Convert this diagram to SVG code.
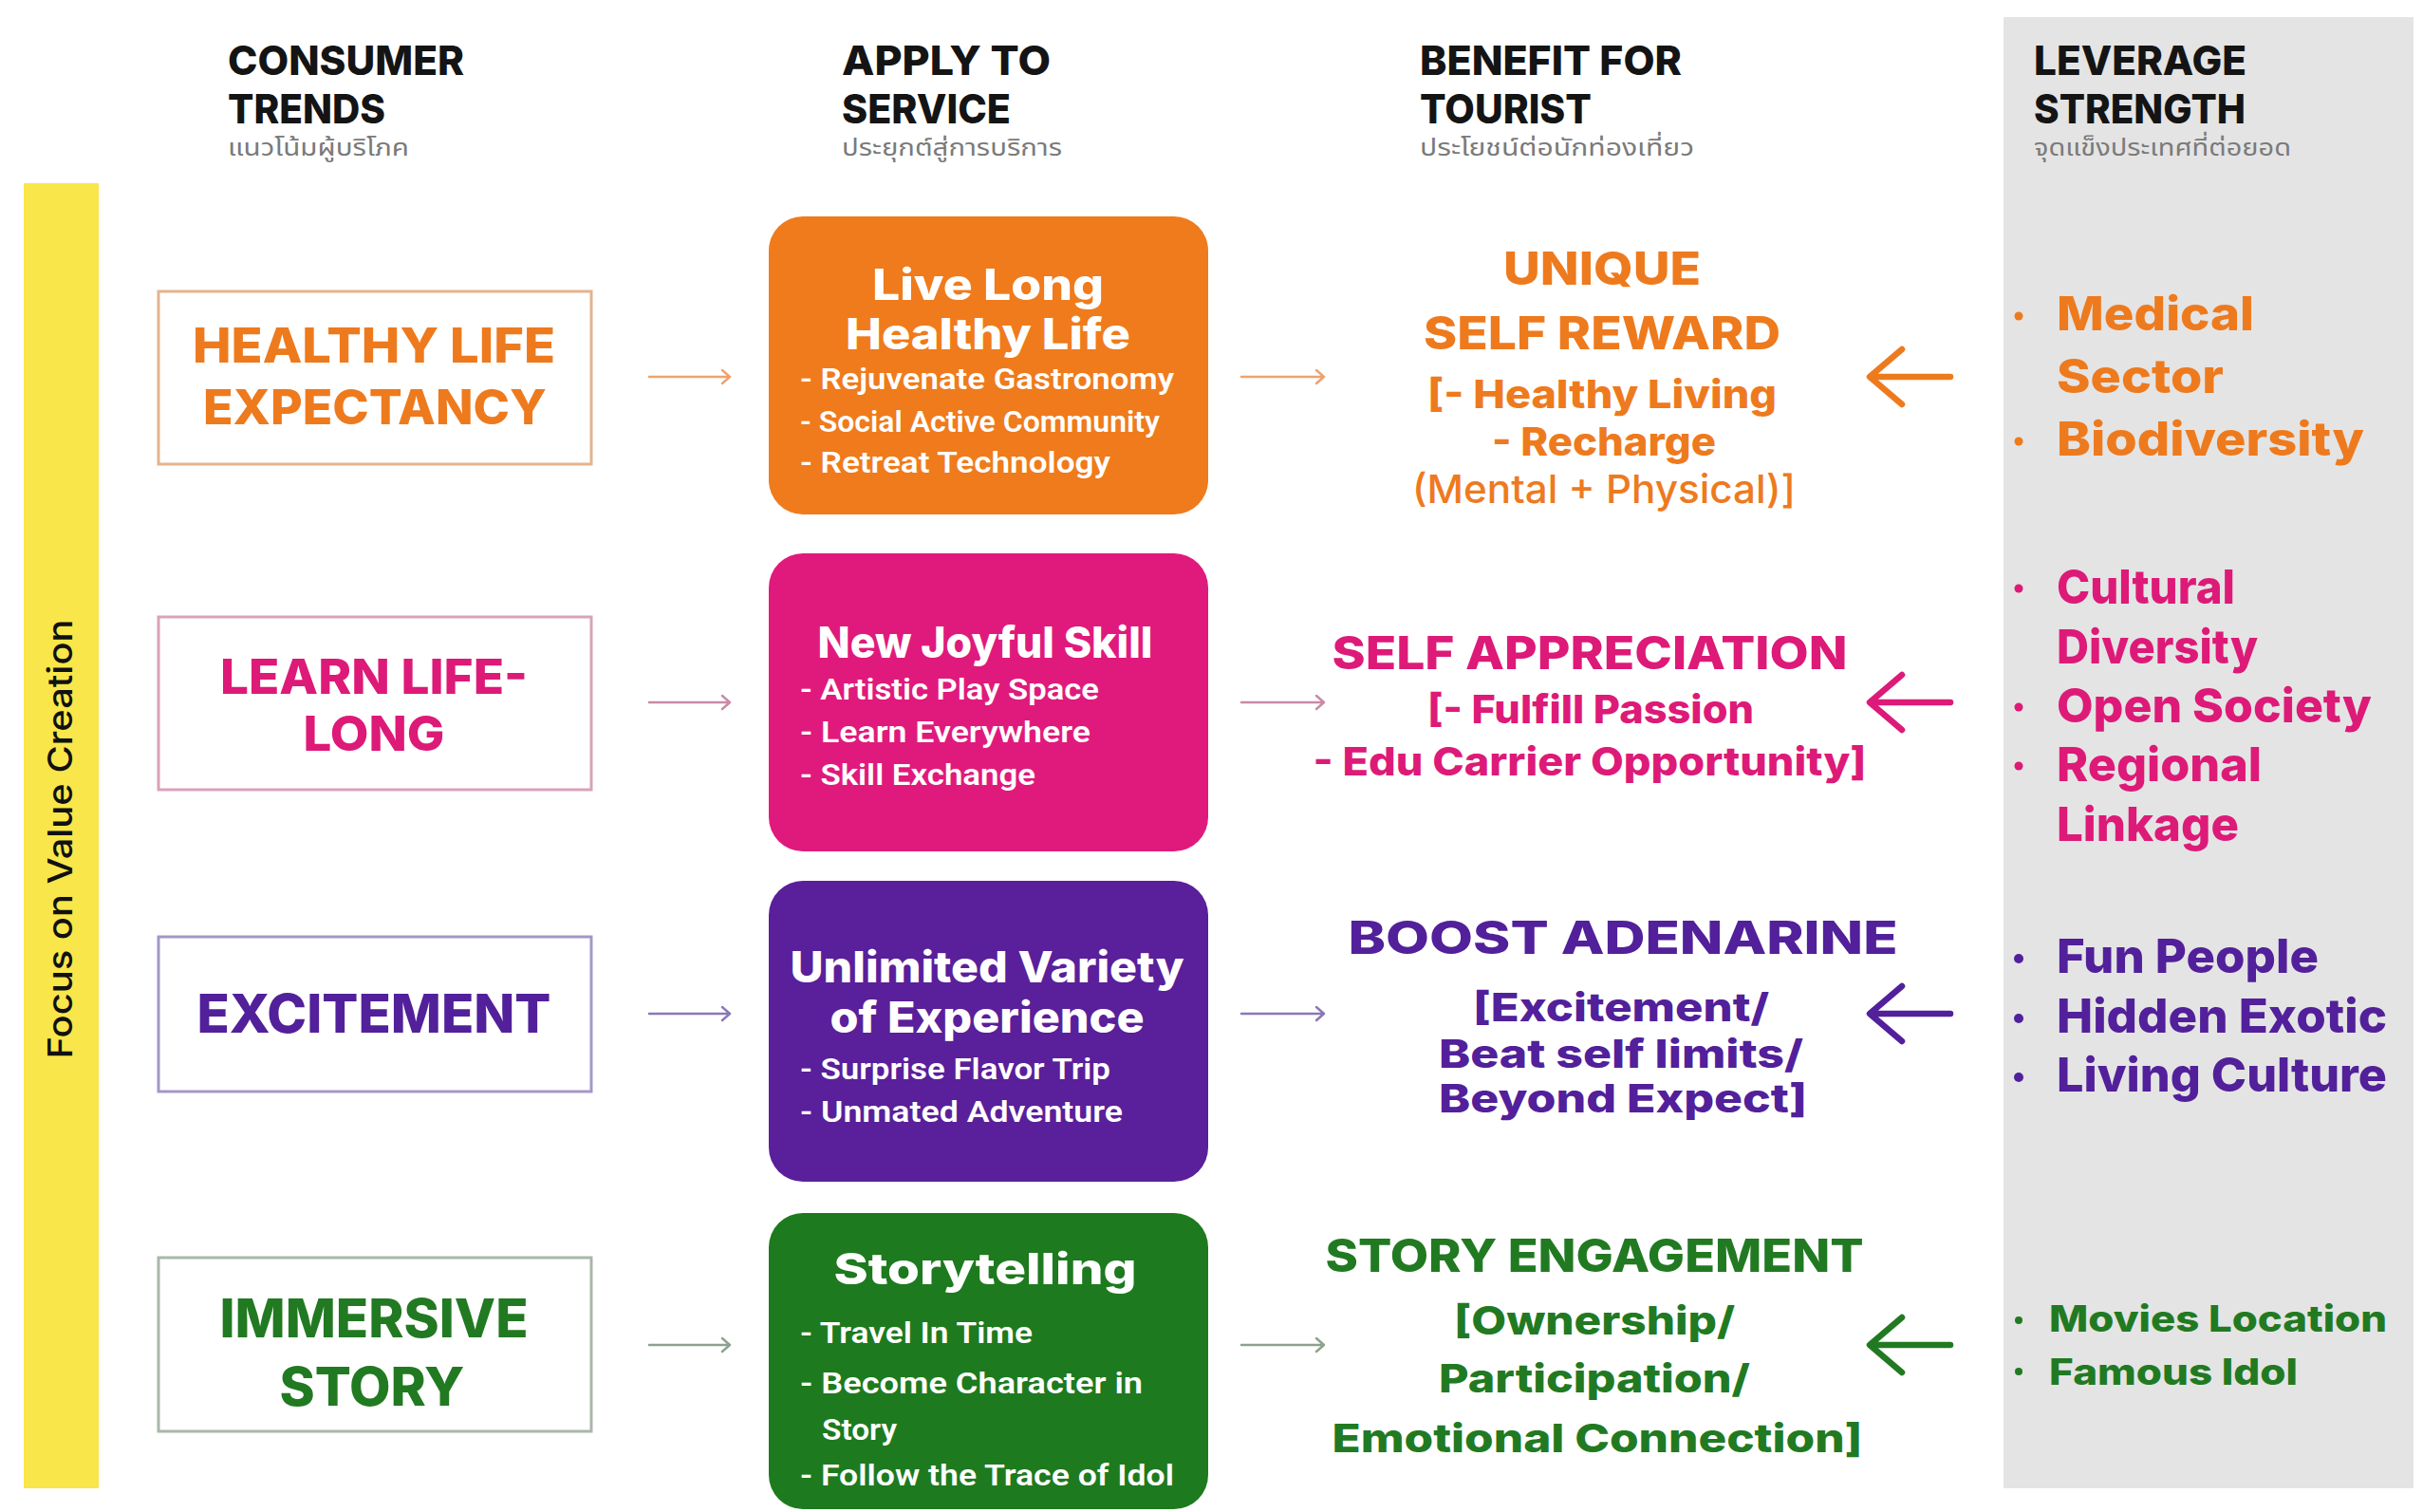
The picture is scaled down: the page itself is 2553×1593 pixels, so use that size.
<svg xmlns="http://www.w3.org/2000/svg" width="2553" height="1593" viewBox="0 0 2553 1593">
  <style>
    .hd { font-family: Inter, "Liberation Sans", sans-serif; font-weight: 800; font-size: 43px; fill: #141414; }
    .th { font-family: "Noto Sans Thai", "Noto Sans", "DejaVu Sans", sans-serif; font-weight: 400; font-size: 25px; fill: #7a7a7a; }
    .big { font-family: Inter, "Liberation Sans", sans-serif; font-weight: 800; font-size: 56px; }
    .two { font-size: 51px; }
    .ttl { font-family: Inter, "Liberation Sans", sans-serif; font-weight: 800; font-size: 45px; fill: #ffffff; }
    .itm { font-family: "Liberation Sans Narrow", Roboto, "Liberation Sans", sans-serif; font-weight: 600; font-size: 31px; fill: #ffffff; }
    .ben { font-family: Inter, "Liberation Sans", sans-serif; font-weight: 800; font-size: 48px; }
    .sub { font-family: Inter, "Liberation Sans", sans-serif; font-weight: 800; font-size: 41px; }
    .reg { font-family: Inter, "Liberation Sans", sans-serif; font-weight: 500; font-size: 41px; }
    .lev { font-family: Inter, "Liberation Sans", sans-serif; font-weight: 800; font-size: 50px; }
    .small { font-size: 38px; }
    .side { font-family: Inter, "Liberation Sans", sans-serif; font-weight: 500; font-size: 36px; fill: #111111; }
    .trend { fill: #ffffff; stroke-width: 3; }
    .thin { fill: none; stroke-width: 2.5; stroke-linecap: round; stroke-linejoin: round; }
    .thick { fill: none; stroke-width: 6.5; stroke-linecap: round; stroke-linejoin: round; }
    .or { fill: #ee7a1e; } .pk { fill: #dd1a78; } .pu { fill: #52209a; } .gr { fill: #217a21; }
  </style>

  <rect width="2553" height="1593" fill="#ffffff"/>

  <!-- side band and strength column -->
  <g id="value-band">
    <rect x="25" y="193" width="79" height="1375" fill="#f9e64a"/>
    <text class="side" transform="translate(76,884) rotate(-90)" text-anchor="middle" textLength="463" lengthAdjust="spacingAndGlyphs">Focus on Value Creation</text>
  </g>
  <rect id="strength-column" x="2111" y="18" width="432" height="1550" fill="#e4e4e4"/>

  <!-- column headers -->
  <g id="header-trends">
    <text class="hd" x="240" y="79" textLength="249" lengthAdjust="spacingAndGlyphs">CONSUMER</text>
    <text class="hd" x="240" y="130" textLength="166" lengthAdjust="spacingAndGlyphs">TRENDS</text>
    <text class="th" x="240" y="164" textLength="191" lengthAdjust="spacingAndGlyphs">แนวโน้มผู้บริโภค</text>
  </g>
  <g id="header-service">
    <text class="hd" x="887" y="79" textLength="220" lengthAdjust="spacingAndGlyphs">APPLY TO</text>
    <text class="hd" x="887" y="130" textLength="178" lengthAdjust="spacingAndGlyphs">SERVICE</text>
    <text class="th" x="887" y="164" textLength="232" lengthAdjust="spacingAndGlyphs">ประยุกต์สู่การบริการ</text>
  </g>
  <g id="header-benefit">
    <text class="hd" x="1496" y="79" textLength="276" lengthAdjust="spacingAndGlyphs">BENEFIT FOR</text>
    <text class="hd" x="1496" y="130" textLength="181" lengthAdjust="spacingAndGlyphs">TOURIST</text>
    <text class="th" x="1496" y="164" textLength="289" lengthAdjust="spacingAndGlyphs">ประโยชน์ต่อนักท่องเที่ยว</text>
  </g>
  <g id="header-strength">
    <text class="hd" x="2143" y="79" textLength="224" lengthAdjust="spacingAndGlyphs">LEVERAGE</text>
    <text class="hd" x="2143" y="130" textLength="223" lengthAdjust="spacingAndGlyphs">STRENGTH</text>
    <text class="th" x="2143" y="164" textLength="271" lengthAdjust="spacingAndGlyphs">จุดแข็งประเทศที่ต่อยอด</text>
  </g>

  <!-- row 1: healthy life -->
  <g id="trend-healthy">
    <rect class="trend" x="167" y="307" width="456" height="182" stroke="#e3b48e"/>
    <text class="big two or" x="394" y="382" text-anchor="middle" textLength="382" lengthAdjust="spacingAndGlyphs">HEALTHY LIFE</text>
    <text class="big two or" x="395" y="447" text-anchor="middle" textLength="362" lengthAdjust="spacingAndGlyphs">EXPECTANCY</text>
  </g>
  <g id="service-live-long">
    <rect x="810" y="228" width="463" height="314" rx="36" fill="#ef7b1c"/>
    <text class="ttl" x="1041" y="316" text-anchor="middle" textLength="244" lengthAdjust="spacingAndGlyphs">Live Long</text>
    <text class="ttl" x="1041" y="368" text-anchor="middle" textLength="300" lengthAdjust="spacingAndGlyphs">Healthy Life</text>
    <text class="itm" x="843" y="410" textLength="394" lengthAdjust="spacingAndGlyphs">- Rejuvenate Gastronomy</text>
    <text class="itm" x="843" y="455" textLength="379" lengthAdjust="spacingAndGlyphs">- Social Active Community</text>
    <text class="itm" x="843" y="498" textLength="327" lengthAdjust="spacingAndGlyphs">- Retreat Technology</text>
  </g>
  <g id="benefit-self-reward">
    <text class="ben or" x="1688" y="300" text-anchor="middle" textLength="208" lengthAdjust="spacingAndGlyphs">UNIQUE</text>
    <text class="ben or" x="1688" y="368" text-anchor="middle" textLength="376" lengthAdjust="spacingAndGlyphs">SELF REWARD</text>
    <text class="sub or" x="1688" y="430" text-anchor="middle" textLength="368" lengthAdjust="spacingAndGlyphs">[- Healthy Living</text>
    <text class="sub or" x="1690" y="480" text-anchor="middle" textLength="236" lengthAdjust="spacingAndGlyphs">- Recharge</text>
    <text class="reg or" x="1690" y="530" text-anchor="middle" textLength="404" lengthAdjust="spacingAndGlyphs">(Mental + Physical)]</text>
  </g>
  <g id="strength-medical">
    <circle cx="2127" cy="333" r="4.5" fill="#ee7a1e"/>
    <circle cx="2127" cy="465" r="4.5" fill="#ee7a1e"/>
    <text class="lev or" x="2167" y="348" textLength="208" lengthAdjust="spacingAndGlyphs">Medical</text>
    <text class="lev or" x="2167" y="414" textLength="176" lengthAdjust="spacingAndGlyphs">Sector</text>
    <text class="lev or" x="2167" y="480" textLength="324" lengthAdjust="spacingAndGlyphs">Biodiversity</text>
  </g>

  <!-- row 2: learn life-long -->
  <g id="trend-learn">
    <rect class="trend" x="167" y="650" width="456" height="182" stroke="#d9a2bb"/>
    <text class="big two pk" x="394" y="731" text-anchor="middle" textLength="324" lengthAdjust="spacingAndGlyphs">LEARN LIFE-</text>
    <text class="big two pk" x="394" y="791" text-anchor="middle" textLength="149" lengthAdjust="spacingAndGlyphs">LONG</text>
  </g>
  <g id="service-joyful-skill">
    <rect x="810" y="583" width="463" height="314" rx="36" fill="#e01a7c"/>
    <text class="ttl" x="1038" y="693" text-anchor="middle" textLength="353" lengthAdjust="spacingAndGlyphs">New Joyful Skill</text>
    <text class="itm" x="843" y="737" textLength="315" lengthAdjust="spacingAndGlyphs">- Artistic Play Space</text>
    <text class="itm" x="843" y="782" textLength="306" lengthAdjust="spacingAndGlyphs">- Learn Everywhere</text>
    <text class="itm" x="843" y="827" textLength="248" lengthAdjust="spacingAndGlyphs">- Skill Exchange</text>
  </g>
  <g id="benefit-self-appreciation">
    <text class="ben pk" x="1675" y="705" text-anchor="middle" textLength="543" lengthAdjust="spacingAndGlyphs">SELF APPRECIATION</text>
    <text class="sub pk" x="1676" y="762" text-anchor="middle" textLength="344" lengthAdjust="spacingAndGlyphs">[- Fulfill Passion</text>
    <text class="sub pk" x="1675" y="817" text-anchor="middle" textLength="583" lengthAdjust="spacingAndGlyphs">- Edu Carrier Opportunity]</text>
  </g>
  <g id="strength-cultural">
    <circle cx="2127" cy="620" r="4.5" fill="#dd1a78"/>
    <circle cx="2127" cy="745" r="4.5" fill="#dd1a78"/>
    <circle cx="2127" cy="807" r="4.5" fill="#dd1a78"/>
    <text class="lev pk" x="2167" y="636" textLength="188" lengthAdjust="spacingAndGlyphs">Cultural</text>
    <text class="lev pk" x="2167" y="699" textLength="212" lengthAdjust="spacingAndGlyphs">Diversity</text>
    <text class="lev pk" x="2167" y="761" textLength="332" lengthAdjust="spacingAndGlyphs">Open Society</text>
    <text class="lev pk" x="2167" y="823" textLength="216" lengthAdjust="spacingAndGlyphs">Regional</text>
    <text class="lev pk" x="2167" y="886" textLength="192" lengthAdjust="spacingAndGlyphs">Linkage</text>
  </g>

  <!-- row 3: excitement -->
  <g id="trend-excitement">
    <rect class="trend" x="167" y="987" width="456" height="163" stroke="#a497c6"/>
    <text class="big pu" x="394" y="1088" text-anchor="middle" textLength="373" lengthAdjust="spacingAndGlyphs">EXCITEMENT</text>
  </g>
  <g id="service-variety">
    <rect x="810" y="928" width="463" height="317" rx="36" fill="#5a1f9a"/>
    <text class="ttl" x="1040" y="1035" text-anchor="middle" textLength="415" lengthAdjust="spacingAndGlyphs">Unlimited Variety</text>
    <text class="ttl" x="1040" y="1088" text-anchor="middle" textLength="331" lengthAdjust="spacingAndGlyphs">of Experience</text>
    <text class="itm" x="843" y="1137" textLength="327" lengthAdjust="spacingAndGlyphs">- Surprise Flavor Trip</text>
    <text class="itm" x="843" y="1182" textLength="340" lengthAdjust="spacingAndGlyphs">- Unmated Adventure</text>
  </g>
  <g id="benefit-boost">
    <text class="ben pu" x="1710" y="1005" text-anchor="middle" textLength="579" lengthAdjust="spacingAndGlyphs">BOOST ADENARINE</text>
    <text class="sub pu" x="1708" y="1076" text-anchor="middle" textLength="312" lengthAdjust="spacingAndGlyphs">[Excitement/</text>
    <text class="sub pu" x="1708" y="1125" text-anchor="middle" textLength="384" lengthAdjust="spacingAndGlyphs">Beat self limits/</text>
    <text class="sub pu" x="1710" y="1172" text-anchor="middle" textLength="388" lengthAdjust="spacingAndGlyphs">Beyond Expect]</text>
  </g>
  <g id="strength-fun-people">
    <circle cx="2127" cy="1010" r="5" fill="#52209a"/>
    <circle cx="2127" cy="1073" r="5" fill="#52209a"/>
    <circle cx="2127" cy="1135" r="5" fill="#52209a"/>
    <text class="lev pu" x="2167" y="1025" textLength="276" lengthAdjust="spacingAndGlyphs">Fun People</text>
    <text class="lev pu" x="2167" y="1088" textLength="348" lengthAdjust="spacingAndGlyphs">Hidden Exotic</text>
    <text class="lev pu" x="2167" y="1150" textLength="348" lengthAdjust="spacingAndGlyphs">Living Culture</text>
  </g>

  <!-- row 4: immersive story -->
  <g id="trend-immersive">
    <rect class="trend" x="167" y="1325" width="456" height="183" stroke="#a9b7a9"/>
    <text class="big gr" x="394" y="1409" text-anchor="middle" textLength="325" lengthAdjust="spacingAndGlyphs">IMMERSIVE</text>
    <text class="big gr" x="392" y="1481" text-anchor="middle" textLength="195" lengthAdjust="spacingAndGlyphs">STORY</text>
  </g>
  <g id="service-storytelling">
    <rect x="810" y="1278" width="463" height="312" rx="36" fill="#1e7a1e"/>
    <text class="ttl" x="1038" y="1353" text-anchor="middle" textLength="319" lengthAdjust="spacingAndGlyphs">Storytelling</text>
    <text class="itm" x="843" y="1415" textLength="245" lengthAdjust="spacingAndGlyphs">- Travel In Time</text>
    <text class="itm" x="843" y="1468" textLength="361" lengthAdjust="spacingAndGlyphs">- Become Character in</text>
    <text class="itm" x="866" y="1517" textLength="79" lengthAdjust="spacingAndGlyphs">Story</text>
    <text class="itm" x="843" y="1565" textLength="394" lengthAdjust="spacingAndGlyphs">- Follow the Trace of Idol</text>
  </g>
  <g id="benefit-story-engagement">
    <text class="ben gr" x="1680" y="1340" text-anchor="middle" textLength="567" lengthAdjust="spacingAndGlyphs">STORY ENGAGEMENT</text>
    <text class="sub gr" x="1680" y="1406" text-anchor="middle" textLength="296" lengthAdjust="spacingAndGlyphs">[Ownership/</text>
    <text class="sub gr" x="1680" y="1467" text-anchor="middle" textLength="328" lengthAdjust="spacingAndGlyphs">Participation/</text>
    <text class="sub gr" x="1683" y="1530" text-anchor="middle" textLength="559" lengthAdjust="spacingAndGlyphs">Emotional Connection]</text>
  </g>
  <g id="strength-movies">
    <circle cx="2127" cy="1391" r="4" fill="#217a21"/>
    <circle cx="2127" cy="1445" r="4" fill="#217a21"/>
    <text class="lev small gr" x="2159" y="1403" textLength="356" lengthAdjust="spacingAndGlyphs">Movies Location</text>
    <text class="lev small gr" x="2159" y="1459" textLength="262" lengthAdjust="spacingAndGlyphs">Famous Idol</text>
  </g>

  <!-- connectors: trend -> service -> benefit, and strength -> benefit -->
  <g id="connectors">
    <path class="thin" stroke="#efa26e" d="M684,397 H769 M761,390 L769,397 L761,404"/>
    <path class="thin" stroke="#efa26e" d="M1308,397 H1395 M1387,390 L1395,397 L1387,404"/>
    <path class="thick" stroke="#ee7a1e" d="M2055,397 H1971 M2004,368 L1970,397 L2004,426"/>

    <path class="thin" stroke="#c98aa6" d="M684,740 H769 M761,733 L769,740 L761,747"/>
    <path class="thin" stroke="#c98aa6" d="M1308,740 H1395 M1387,733 L1395,740 L1387,747"/>
    <path class="thick" stroke="#dd1a78" d="M2055,740 H1971 M2004,711 L1970,740 L2004,769"/>

    <path class="thin" stroke="#8a78b6" d="M684,1068 H769 M761,1061 L769,1068 L761,1075"/>
    <path class="thin" stroke="#8a78b6" d="M1308,1068 H1395 M1387,1061 L1395,1068 L1387,1075"/>
    <path class="thick" stroke="#52209a" d="M2055,1068 H1971 M2004,1039 L1970,1068 L2004,1097"/>

    <path class="thin" stroke="#8fa18f" d="M684,1417 H769 M761,1410 L769,1417 L761,1424"/>
    <path class="thin" stroke="#8fa18f" d="M1308,1417 H1395 M1387,1410 L1395,1417 L1387,1424"/>
    <path class="thick" stroke="#217a21" d="M2055,1417 H1971 M2004,1388 L1970,1417 L2004,1446"/>
  </g>
</svg>
